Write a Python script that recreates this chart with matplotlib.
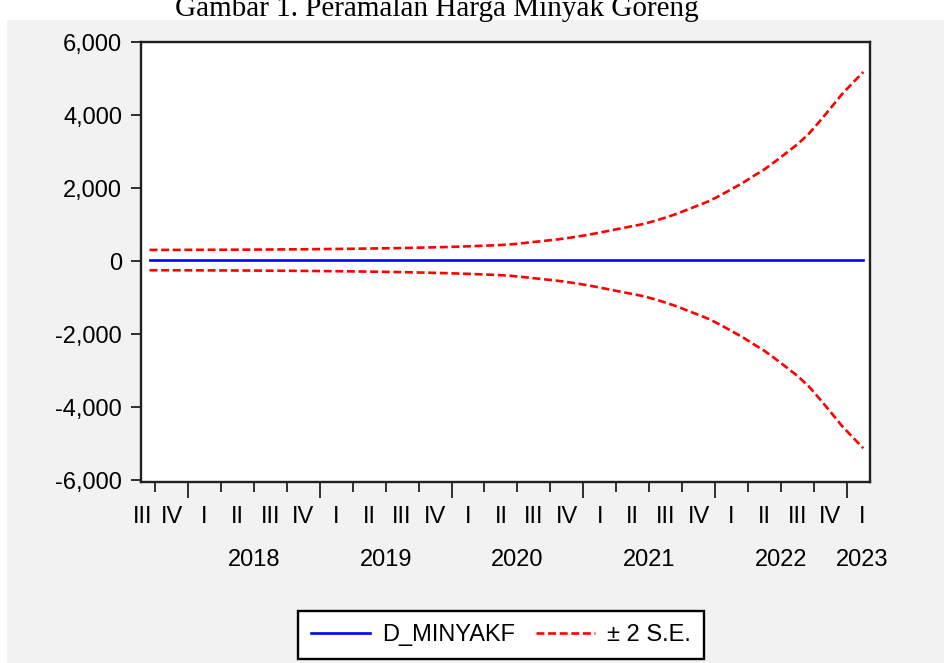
import numpy as np
import pandas as pd
import matplotlib
matplotlib.use("Agg")
import matplotlib.pyplot as plt
from matplotlib.patches import Rectangle
from matplotlib.ticker import FuncFormatter

# ---------------- data ----------------
start_month = "2017-09"
end_month = "2023-02"
forecast = [30] * 66  # D_MINYAKF
se2 = [278, 279, 279, 280,
       281, 282, 283, 284, 285, 286, 288, 290, 292, 294, 296, 299,
       302, 305, 308, 312, 316, 320, 325, 330, 336, 343, 350, 358,
       367, 377, 388, 400, 413, 433, 464, 496, 528, 560, 600, 645,
       695, 752, 812, 872, 930, 990, 1072, 1165, 1265, 1384, 1500, 1621,
       1775, 1942, 2110, 2300, 2485, 2705, 2935, 3170, 3446, 3790, 4150, 4520,
       4840, 5150]
quarter_labels = ["III", "IV"] + ["I", "II", "III", "IV"] * 5 + ["I"]
year_labels = ["2018", "2019", "2020", "2021", "2022", "2023"]
y_ticks = [-6000, -4000, -2000, 0, 2000, 4000, 6000]
title = "Gambar 1. Peramalan Harga Minyak Goreng"

# ---------------- x positions (months since Jan 2018, mid-month) ----------------
periods = pd.period_range(start_month, end_month, freq="M")
x = np.array([(p.year - 2018) * 12 + (p.month - 1) + 0.5 for p in periods])
f = np.array(forecast, dtype=float)
s = np.array(se2, dtype=float)

W, H = 944, 663
fig = plt.figure(figsize=(W / 100, H / 100), dpi=100, facecolor="white")
bg = Rectangle((7 / W, 0), 1, 1 - 20 / H, transform=fig.transFigure,
               facecolor="#F2F2F2", edgecolor="none", zorder=-10)
fig.add_artist(bg)
fig.text(437 / W, 1 - 16 / H, title, ha="center", va="baseline",
         fontsize=21, family="Liberation Serif", color="black", zorder=5)

L, R, T, B = 141, 870, 42, 482
ax = fig.add_axes([L / W, 1 - B / H, (R - L) / W, (B - T) / H])
ax.set_zorder(2)
ax.set_facecolor("white")

sans = "Liberation Sans"
fs = 17
dash = (0, (3.0, 1.4))

ax.plot(x, f, color="#0000FF", lw=1.9, label="D_MINYAKF", zorder=3)
ax.plot(x, f + s, color="#FF0000", lw=1.9, ls=dash, label="\u00b1 2 S.E.", zorder=3)
ax.plot(x, f - s, color="#FF0000", lw=1.9, ls=dash, zorder=3)

ax.set_xlim(-4.28, 62.11)
ax.set_ylim(-6045, 6000)

for sp in ax.spines.values():
    sp.set_linewidth(1.7)
    sp.set_color("#202020")

ax.set_yticks(y_ticks)
ax.yaxis.set_major_formatter(FuncFormatter(lambda v, p: f"{int(v):,}"))
ax.tick_params(axis="y", direction="out", length=7.5, width=1.3, pad=6,
               labelsize=fs, colors="#202020", labelcolor="black")
for lab in ax.get_yticklabels():
    lab.set_family(sans)

major = list(range(0, 61, 12))
minor = [q for q in range(-3, 61, 3) if q % 12 != 0]
ax.set_xticks(major)
ax.set_xticks(minor, minor=True)
ax.tick_params(axis="x", which="major", direction="out", length=11.5, width=1.3,
               labelbottom=False, colors="#202020")
ax.tick_params(axis="x", which="minor", direction="out", length=7.2, width=1.3,
               labelbottom=False, colors="#202020")

qpos = [-4.1] + [-1.5 + 3 * i for i in range(21)] + [61.4]
tr = ax.get_xaxis_transform()
qy = -(517 - B) / (B - T)
yy = -(560 - B) / (B - T)
for p, lab in zip(qpos, quarter_labels):
    ax.text(p, qy, lab, transform=tr, ha="center", va="center", fontsize=fs,
            family=sans, color="black", clip_on=False)
ypos = [6, 18, 30, 42, 54, 61.4]
for p, lab in zip(ypos, year_labels):
    ax.text(p, yy, lab, transform=tr, ha="center", va="center", fontsize=fs,
            family=sans, color="black", clip_on=False)

leg = fig.legend(loc="upper left", bbox_to_anchor=(298 / W, 1 - 611 / H),
                 ncol=2, frameon=True, fancybox=False, edgecolor="black",
                 facecolor="white", framealpha=1, borderaxespad=0,
                 prop={"family": sans, "size": fs}, handlelength=2.5,
                 handletextpad=0.5, columnspacing=0.9, borderpad=0.55)
leg.get_frame().set_linewidth(1.7)
leg.set_zorder(5)

fig.savefig("out.png", dpi=100, facecolor=fig.get_facecolor())
